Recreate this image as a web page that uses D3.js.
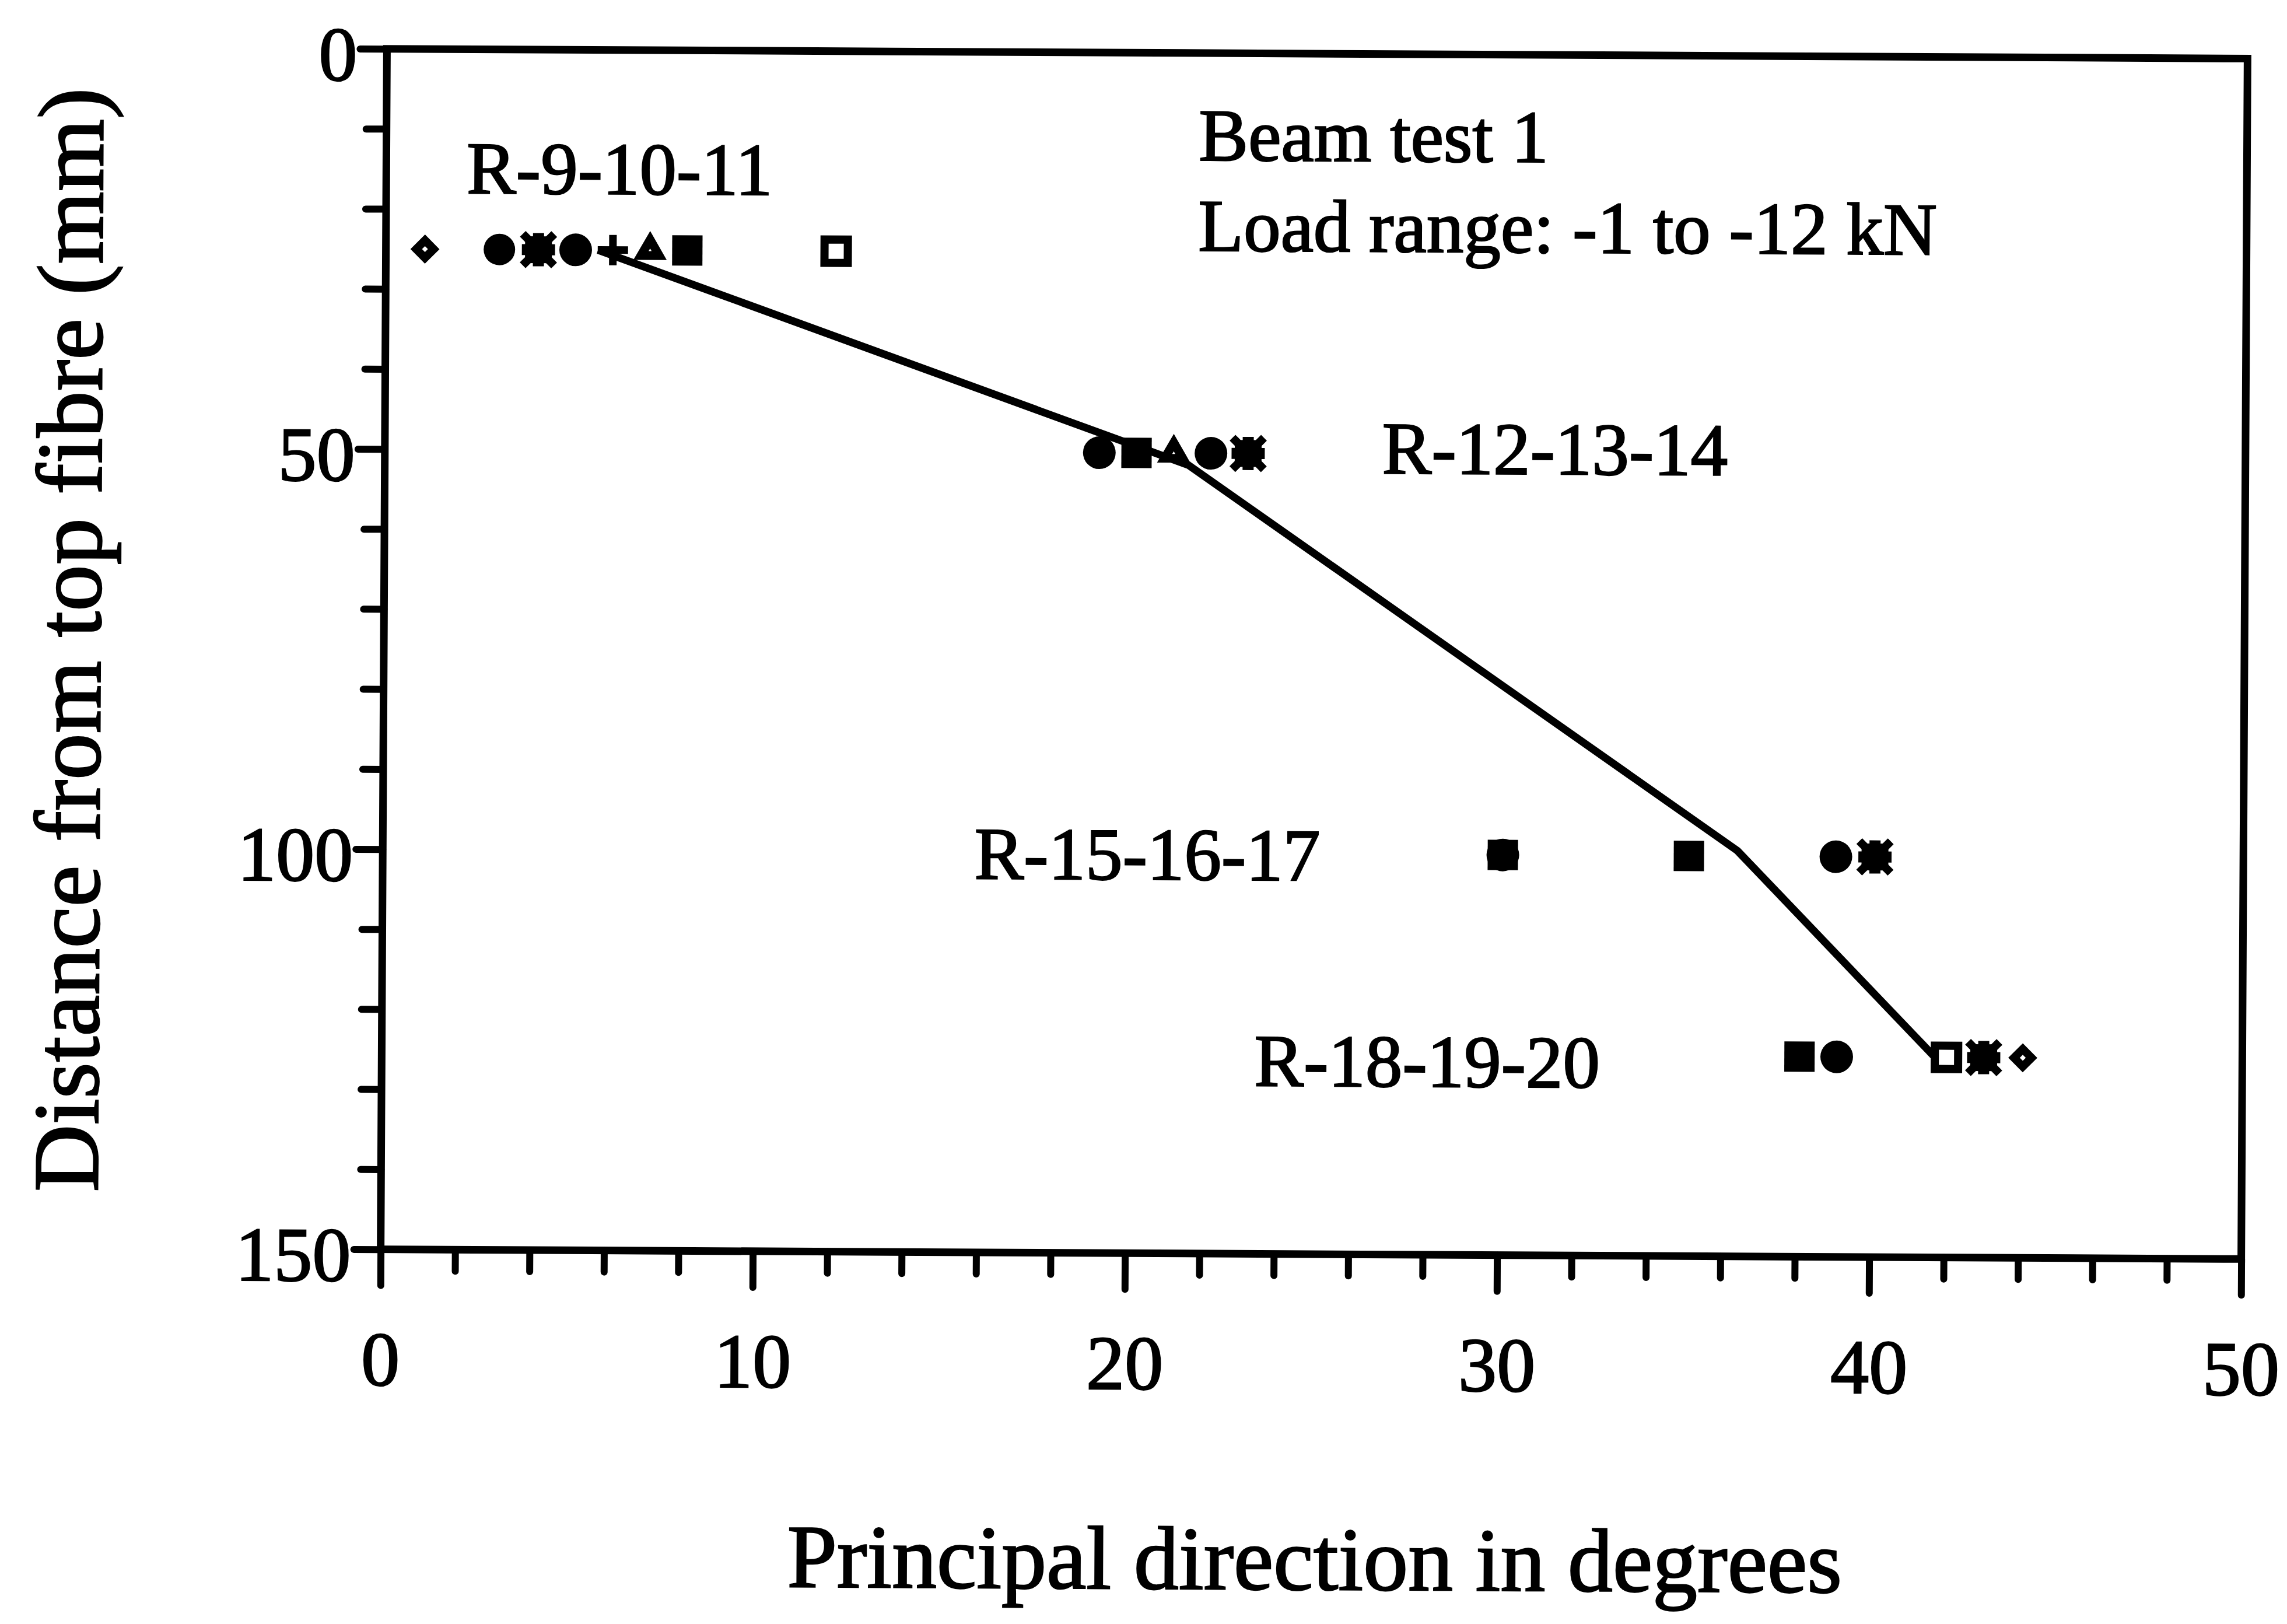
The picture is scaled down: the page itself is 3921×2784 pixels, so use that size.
<!DOCTYPE html>
<html>
<head>
<meta charset="utf-8">
<script src="https://cdn.jsdelivr.net/npm/d3@7"></script>
<style>
  html, body { margin: 0; padding: 0; background: #fff; }
  svg { display: block; }
  text { font-family: "Liberation Serif", "Times New Roman", Times, serif; fill: #000; stroke: #000; stroke-width: 2.5px; }
</style>
</head>
<body>
<svg id="chart" width="3921" height="2784"></svg>
<script>
// Beam test 1: principal strain direction across the beam depth,
// rosettes R-9 ... R-20, load range -1 to -12 kN.

// ---- axis ticks ----
const xTickValues = [0, 10, 20, 30, 40, 50];
const yTickValues = [0, 50, 100, 150];

// ---- measured principal directions (deg) at each rosette depth (mm) ----
const openDiamond = [{ deg: 1.05, depth: 25 }, { deg: 44.1, depth: 125 }];
const ringDot     = [{ deg: 3.05, depth: 25 }];
const asterisk    = [{ deg: 4.1, depth: 25 }, { deg: 23.2, depth: 50 }, { deg: 40.1, depth: 100 }, { deg: 43.05, depth: 125 }];
const solidCircle = [{ deg: 5.1, depth: 25 }, { deg: 19.2, depth: 50 }, { deg: 22.2, depth: 50 },
                     { deg: 30.1, depth: 100 }, { deg: 39.05, depth: 100 }, { deg: 39.1, depth: 125 }];
const plusMark    = [{ deg: 6.1, depth: 25 }];
const triangle    = [{ deg: 7.1, depth: 25 }, { deg: 21.2, depth: 50 }];
const solidSquare = [{ deg: 8.1, depth: 25 }, { deg: 20.2, depth: 50 }, { deg: 30.1, depth: 100 },
                     { deg: 35.1, depth: 100 }, { deg: 38.1, depth: 125 }];
const openSquare  = [{ deg: 12.1, depth: 25 }, { deg: 42.05, depth: 125 }];

// mean direction line through the four rosette levels
const meanLine = [{ deg: 5.7, depth: 25 }, { deg: 21.6, depth: 51.5 }, { deg: 36.4, depth: 99.3 }, { deg: 41.7, depth: 124.8 }];

// ---- text ----
const rosetteNames = ["R-9-10-11", "R-12-13-14", "R-15-16-17", "R-18-19-20"];
const noteLines = ["Beam test 1", "Load range: -1 to -12 kN"];
const xTitle = "Principal direction in degrees";
const yTitle = "Distance from top fibre (mm)";

// ---- layout ----
const plot = { left: 658, right: 3848, top: 92, bottom: 2150 };
const INK = "#000";
const AXIS_W = 13;

const svg = d3.select("#chart");
svg.append("rect").attr("width", 3921).attr("height", 2784).attr("fill", "#fff");

// the printed figure sits very slightly turned on the page
const root = svg.append("g").attr("transform", "rotate(0.3, 2253, 1121)");

const x = d3.scaleLinear().domain([0, 50]).range([plot.left, plot.right]);
const y = d3.scaleLinear().domain([0, 150]).range([plot.top, plot.bottom]);

const xMinor = d3.range(2, 50, 2).filter(v => v % 10 !== 0);
const yMinor = d3.range(10, 150, 10).filter(v => v % 50 !== 0);

function styleAxis(g) {
  g.select(".domain").remove();
  g.selectAll(".tick line")
    .attr("stroke", INK)
    .attr("stroke-width", 12)
    .attr("stroke-linecap", "round");
}

// x axis
const gx = root.append("g").attr("transform", `translate(0,${plot.bottom})`);
gx.append("g")
  .call(d3.axisBottom(x).tickValues(xMinor).tickSize(37).tickFormat(""))
  .call(styleAxis);
gx.append("g")
  .call(d3.axisBottom(x).tickValues(xTickValues).tickSize(62).tickFormat(d3.format("d")))
  .call(styleAxis)
  .call(g => g.selectAll(".tick text")
    .attr("y", 233).attr("dy", 0)
    .attr("font-size", 132).attr("fill", INK)
    .style("font-family", "'Liberation Serif', 'Times New Roman', serif"));

// y axis
const gy = root.append("g").attr("transform", `translate(${plot.left},0)`);
gy.append("g")
  .call(d3.axisLeft(y).tickValues(yMinor).tickSize(35).tickFormat(""))
  .call(styleAxis);
gy.append("g")
  .call(d3.axisLeft(y).tickValues(yTickValues).tickSize(46).tickFormat(d3.format("d")))
  .call(styleAxis)
  .call(g => g.selectAll(".tick text")
    .attr("x", -51).attr("dy", 0).attr("y", 54)
    .attr("text-anchor", "end")
    .attr("font-size", 132).attr("fill", INK)
    .style("font-family", "'Liberation Serif', 'Times New Roman', serif"));

// plot frame
root.append("rect")
  .attr("x", plot.left).attr("y", plot.top)
  .attr("width", plot.right - plot.left).attr("height", plot.bottom - plot.top)
  .attr("fill", "none").attr("stroke", INK).attr("stroke-width", AXIS_W);

// mean direction line
const line = d3.line().x(d => x(d.deg)).y(d => y(d.depth));
root.append("path")
  .datum(meanLine)
  .attr("d", line)
  .attr("fill", "none").attr("stroke", INK)
  .attr("stroke-width", 13).attr("stroke-linejoin", "round");

// ---- markers ----
const marks = root.append("g");
function place(data) {
  return marks.append("g").selectAll("g").data(data).join("g")
    .attr("transform", d => `translate(${x(d.deg)},${y(d.depth)})`);
}

// open diamond
place(openDiamond).append("path")
  .attr("d", "M0,-15L15,0L0,15L-15,0Z")
  .attr("fill", "#fff").attr("stroke", INK).attr("stroke-width", 14);

// heavy ring (closed up by the ink)
place(ringDot).append("circle").attr("r", 27).attr("fill", INK);

// bold asterisk
const ast = place(asterisk);
ast.append("rect").attr("x", -23).attr("y", -23).attr("width", 46).attr("height", 46).attr("fill", INK);
ast.append("path").attr("d", d3.symbol().type(d3.symbolCross).size(1800)()).attr("fill", INK);
ast.append("path").attr("d", "M-22,-22L22,22M22,-22L-22,22")
  .attr("stroke", INK).attr("stroke-width", 14).attr("stroke-linecap", "square");

// solid circle
place(solidCircle).append("circle").attr("r", 28).attr("fill", INK);

// plus
place(plusMark).append("path").attr("d", "M-26,0H26M0,-26V26")
  .attr("stroke", INK).attr("stroke-width", 13);

// triangle
place(triangle).append("path")
  .attr("d", "M0,-18L15.6,9L-15.6,9Z")
  .attr("fill", "#fff").attr("stroke", INK).attr("stroke-width", 15);

// solid square
place(solidSquare).append("rect")
  .attr("x", -26).attr("y", -26).attr("width", 52).attr("height", 52).attr("fill", INK);

// open square
place(openSquare).append("rect")
  .attr("x", -20).attr("y", -20).attr("width", 40).attr("height", 40)
  .attr("fill", "#fff").attr("stroke", INK).attr("stroke-width", 14);

// ---- annotations ----
const annot = root.append("g").attr("font-size", 127);
const rosettePos = [[2.16, 18.0], [26.8, 52.4], [15.9, 103.3], [23.45, 129]];
rosetteNames.forEach((t, i) => {
  annot.append("text").attr("x", x(rosettePos[i][0])).attr("y", y(rosettePos[i][1])).text(t);
});
noteLines.forEach((t, i) => {
  annot.append("text").attr("x", x(21.83)).attr("y", y(13.4) + i * 155).text(t);
});

// axis titles
root.append("text")
  .attr("x", 2262).attr("y", 2725)
  .attr("text-anchor", "middle").attr("font-size", 154)
  .text(xTitle);
root.append("text")
  .attr("transform", "translate(172,1108) rotate(-90)")
  .attr("text-anchor", "middle").attr("font-size", 160)
  .text(yTitle);
</script>
</body>
</html>
